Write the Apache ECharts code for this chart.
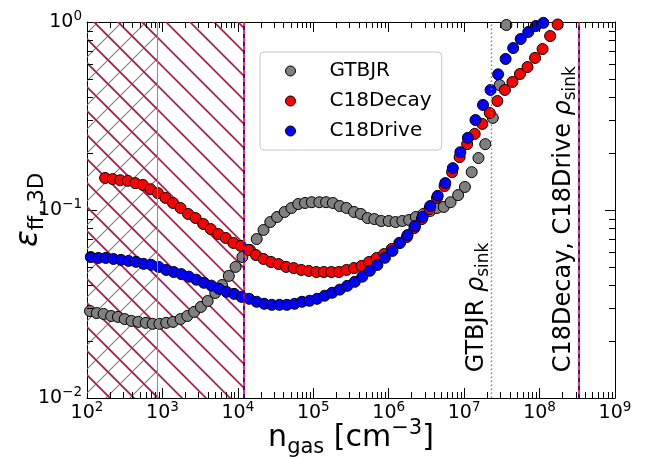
<!DOCTYPE html>
<html><head><meta charset="utf-8">
<script src="https://cdn.jsdelivr.net/npm/echarts@6.0.0/dist/echarts.min.js"></script>
<style>html,body{margin:0;padding:0;background:#fff}#c{width:646px;height:457px}</style>
</head><body><div id="c"></div>
<script>
// ---- data (log10 of n_gas, and eps_ff,3D) ----
const gtbjrLogN = [2.04,2.13,2.22,2.32,2.41,2.50,2.59,2.68,2.78,2.87,2.96,3.05,3.14,3.24,3.33,3.42,3.51,3.60,3.70,3.79,3.88,3.97,4.06,4.16,4.25,4.34,4.43,4.52,4.62,4.71,4.80,4.89,4.98,5.08,5.17,5.26,5.35,5.44,5.54,5.63,5.72,5.81,5.90,6.00,6.09,6.18,6.27,6.36,6.46,6.55,6.64,6.73,6.82,6.92,7.01,7.10,7.19,7.28,7.38,7.47,7.56];
const gtbjrEps = [0.0290,0.0283,0.0280,0.0273,0.0270,0.0263,0.0257,0.0254,0.0251,0.0248,0.0248,0.0251,0.0254,0.0263,0.0273,0.0287,0.0305,0.0328,0.0362,0.0399,0.0446,0.0498,0.0562,0.0613,0.0701,0.0783,0.0863,0.0918,0.0976,0.1025,0.1076,0.109,0.110,0.110,0.110,0.109,0.105,0.1025,0.0976,0.0953,0.0906,0.0895,0.0874,0.0874,0.0863,0.0874,0.0885,0.0918,0.0953,0.0988,0.1025,0.1038,0.110,0.120,0.1326,0.159,0.189,0.224,0.309,0.462,0.964];
const decayLogN = [2.24,2.34,2.44,2.54,2.64,2.74,2.84,2.94,3.04,3.14,3.24,3.34,3.44,3.54,3.64,3.74,3.84,3.94,4.04,4.14,4.24,4.34,4.44,4.54,4.64,4.74,4.84,4.94,5.04,5.14,5.24,5.34,5.44,5.54,5.64,5.74,5.84,5.94,6.04,6.14,6.24,6.34,6.44,6.54,6.64,6.74,6.84,6.94,7.04,7.14,7.24,7.34,7.44,7.54,7.64,7.74,7.84,7.94,8.04,8.14,8.24];
const decayEps = [0.148,0.146,0.144,0.143,0.139,0.136,0.129,0.123,0.116,0.109,0.1025,0.0953,0.0906,0.0843,0.0792,0.0745,0.0710,0.0668,0.0644,0.0613,0.0576,0.0549,0.0529,0.0516,0.0498,0.0491,0.0480,0.0474,0.0468,0.0468,0.0468,0.0468,0.0480,0.0491,0.0504,0.0529,0.0556,0.0583,0.0621,0.0668,0.0718,0.0802,0.0895,0.101,0.116,0.134,0.159,0.191,0.224,0.254,0.287,0.328,0.380,0.435,0.480,0.529,0.576,0.644,0.718,0.842,0.97];
const driveLogN = [2.05,2.15,2.25,2.35,2.45,2.55,2.65,2.75,2.85,2.95,3.05,3.15,3.25,3.35,3.45,3.55,3.65,3.75,3.85,3.95,4.05,4.15,4.25,4.35,4.45,4.55,4.65,4.75,4.85,4.95,5.05,5.15,5.25,5.35,5.45,5.55,5.65,5.75,5.85,5.95,6.05,6.15,6.25,6.35,6.45,6.55,6.65,6.75,6.85,6.95,7.05,7.15,7.25,7.35,7.45,7.55,7.65,7.75,7.85,7.95,8.05];
const driveEps = [0.0562,0.0556,0.0556,0.0549,0.0543,0.0536,0.0530,0.0517,0.0511,0.0498,0.0480,0.0468,0.0456,0.0442,0.0426,0.0410,0.0396,0.0381,0.0367,0.0358,0.0345,0.0337,0.0325,0.0317,0.0313,0.0313,0.0313,0.0317,0.0325,0.0329,0.0337,0.0350,0.0363,0.0377,0.0395,0.0415,0.0442,0.0475,0.0510,0.0557,0.0606,0.0668,0.0736,0.0822,0.0920,0.105,0.119,0.139,0.167,0.203,0.242,0.301,0.362,0.435,0.527,0.636,0.727,0.812,0.885,0.952,0.99];

const seriesNames = ['GTBJR', 'C18Decay', 'C18Drive'];
const seriesColors = ['#808080', '#ff0000', '#0000ff'];
const xRange = [1e2, 1e9];
const yRange = [1e-2, 1];
const minorMultipliers = [2, 3, 4, 5, 6, 7, 8, 9];
const xMinorDecades = [2, 3, 4, 5, 6, 7, 8];
const yMinorDecades = [-2, -1];
const gtbjrResolved = 850;      // gray hatch limit
const c18Resolved = 1.18e4;     // red/blue hatch limit
const gtbjrSink = 2.3e7;
const c18Sink = 3.3e8;
const sinkLabelEps = 0.0137;
const sinkLabels = ['GTBJR', 'C18Decay, C18Drive'];

const F = 'DejaVu Sans';
const pairs = (ln, ep) => ln.map((l, i) => [Math.pow(10, l), ep[i]]);
const xMinor = [], yMinor = [];
xMinorDecades.forEach(d => minorMultipliers.forEach(m => xMinor.push(m * Math.pow(10, d))));
yMinorDecades.forEach(d => minorMultipliers.forEach(m => yMinor.push(m * Math.pow(10, d))));

function makeHatch(kind) {
  const T = 24, c = document.createElement('canvas');
  c.width = T; c.height = T;
  const g = c.getContext('2d');
  const back = () => { for (let k = -1; k <= 1; k++) { g.beginPath(); g.moveTo(-3, -3 + k * T); g.lineTo(T + 3, T + 3 + k * T); g.stroke(); } };
  const fwd = () => { for (let k = -1; k <= 1; k++) { g.beginPath(); g.moveTo(-3, T + 3 + k * T); g.lineTo(T + 3, -3 + k * T); g.stroke(); } };
  if (kind === 'x') { g.strokeStyle = '#7a7a7a'; g.lineWidth = 1.1; back(); fwd(); }
  else { g.strokeStyle = '#f0102a'; g.lineWidth = 1.7; back(); g.strokeStyle = 'rgba(80,0,160,0.4)'; g.lineWidth = 0.7; back(); }
  return c;
}
const grayHatch = makeHatch('x'), redHatch = makeHatch('r');

const tickRich = {
  b: { fontSize: 19, lineHeight: 22, fontFamily: F, color: '#000' },
  s: { fontSize: 13.5, lineHeight: 14, padding: [0, 0, 12, 0], fontFamily: F, color: '#000' }
};
const expFmt = v => { const e = Math.round(Math.log10(v)); return '{b|10}{s|' + (e < 0 ? '\u2212' + (-e) : e) + '}'; };

function axisCommon(pos, showLabel) {
  return {
    type: 'log', logBase: 10, position: pos,
    axisLine: { show: true, lineStyle: { color: '#000', width: 1 } },
    axisTick: { show: true, inside: true, length: 10, lineStyle: { color: '#000', width: 1 } },
    minorTick: { show: false },
    splitLine: { show: false },
    axisLabel: showLabel ? { show: true, formatter: expFmt, rich: tickRich } : { show: false }
  };
}

function minorRender(dir) {
  return function (params, api) {
    const cs = params.coordSys, L = 6;
    const p = api.coord([api.value(0), api.value(1)]);
    const st = { stroke: '#000', lineWidth: 1 };
    if (dir === 'x') {
      const x = Math.round(p[0]) + 0.5, yb = cs.y + cs.height, yt = cs.y;
      return { type: 'group', children: [
        { type: 'line', shape: { x1: x, y1: yb, x2: x, y2: yb - L }, style: st },
        { type: 'line', shape: { x1: x, y1: yt, x2: x, y2: yt + L }, style: st }] };
    }
    const y = Math.round(p[1]) + 0.5, xl = cs.x, xr = cs.x + cs.width;
    return { type: 'group', children: [
      { type: 'line', shape: { x1: xl, y1: y, x2: xl + L, y2: y }, style: st },
      { type: 'line', shape: { x1: xr, y1: y, x2: xr - L, y2: y }, style: st }] };
  };
}

const chart = echarts.init(document.getElementById('c'), null, { renderer: 'canvas' });
const datasets = [pairs(gtbjrLogN, gtbjrEps), pairs(decayLogN, decayEps), pairs(driveLogN, driveEps)];

const xA = axisCommon('bottom', true);
Object.assign(xA, { min: xRange[0], max: xRange[1], nameLocation: 'middle', nameGap: 25, nameMoveOverlap: false,
  name: '{n|n}{sub|gas}{n| [cm}{sup|\u22123}{n|]}',
  nameTextStyle: { rich: {
    n: { fontSize: 30, lineHeight: 30, fontFamily: F, color: '#000' },
    sub: { fontSize: 21, lineHeight: 21, padding: [20, 0, 0, 0], fontFamily: F, color: '#000' },
    sup: { fontSize: 21, lineHeight: 21, padding: [0, 0, 18, 0], fontFamily: F, color: '#000' } } } });
xA.axisLabel.margin = 4;
const xTop = axisCommon('top', false); Object.assign(xTop, { min: xRange[0], max: xRange[1] });
const yA = axisCommon('left', true);
Object.assign(yA, { min: yRange[0], max: yRange[1], nameLocation: 'middle', nameGap: 43, nameRotate: 90, nameMoveOverlap: false,
  name: '{e|\u03b5}{sub|ff, 3D}',
  nameTextStyle: { rich: {
    e: { fontSize: 31, lineHeight: 30, fontFamily: F, fontStyle: 'italic', color: '#000' },
    sub: { fontSize: 21, lineHeight: 21, padding: [18, 0, 0, 0], fontFamily: F, color: '#000' } } } });
yA.axisLabel.margin = 5;
const yRight = axisCommon('right', false); Object.assign(yRight, { min: yRange[0], max: yRange[1] });

const series = seriesNames.map((nm, i) => ({
  type: 'scatter', name: nm, data: datasets[i], symbol: 'circle', symbolSize: 11, z: 2 + i * 0.01,
  itemStyle: { color: seriesColors[i], borderColor: '#000', borderWidth: 1, opacity: 1 },
  clip: true, silent: true
}));

const lineRed = { color: '#ff0000', width: 1.6, type: 'solid' };
const lineBlue = { color: '#0000ff', width: 1.6, type: [4, 4] };
series.unshift({
  type: 'scatter', name: 'regions', data: [], silent: true, z: 1,
  markArea: { silent: true, data: [
    [{ xAxis: xRange[0], itemStyle: { color: { image: grayHatch, repeat: 'repeat' }, borderWidth: 0 } }, { xAxis: gtbjrResolved }],
    [{ xAxis: xRange[0], itemStyle: { color: { image: redHatch, repeat: 'repeat' }, borderWidth: 0 } }, { xAxis: c18Resolved }]
  ] },
  markLine: { silent: true, symbol: ['none', 'none'], label: { show: false }, data: [
    { xAxis: gtbjrResolved, lineStyle: { color: '#8a8a8a', width: 1, type: 'solid' } },
    { xAxis: c18Resolved, lineStyle: lineRed },
    { xAxis: c18Resolved, lineStyle: lineBlue },
    { xAxis: gtbjrSink, lineStyle: { color: '#808080', width: 1.4, type: [1.5, 2.5] } },
    { xAxis: c18Sink, lineStyle: lineRed },
    { xAxis: c18Sink, lineStyle: lineBlue }
  ] }
});
series.push({ type: 'custom', name: 'xminor', data: xMinor.map(v => [v, 0.1]), renderItem: minorRender('x'), silent: true, clip: false, z: 6 });
series.push({ type: 'custom', name: 'yminor', data: yMinor.map(v => [1000, v]), renderItem: minorRender('y'), silent: true, clip: false, z: 6 });

chart.setOption({
  animation: false,
  backgroundColor: '#ffffff',
  grid: { left: 87, right: 31, top: 22, bottom: 59, containLabel: false, outerBoundsMode: 'none' },
  xAxis: [xA, Object.assign(xTop, { gridIndex: 0 })],
  yAxis: [yA, Object.assign(yRight, { gridIndex: 0 })],
  legend: {
    data: seriesNames.map(n => ({ name: n, icon: 'circle', itemStyle: { borderColor: '#000', borderWidth: 1 } })),
    orient: 'vertical', left: 260, top: 52,
    itemWidth: 10, itemHeight: 10, itemGap: 10,
    itemStyle: { borderColor: '#000', borderWidth: 1 },
    textStyle: { fontSize: 20, fontFamily: F, color: '#000', padding: [0, 0, 0, 29] },
    backgroundColor: 'rgba(255,255,255,0.8)', borderColor: '#c8c8c8', borderWidth: 1, borderRadius: 4,
    padding: [9, 10, 9, 25]
  },
  series: series
});

const sinkRich = {
  b: { fontSize: 24, lineHeight: 24, fontFamily: F, color: '#000' },
  r: { fontSize: 24, lineHeight: 24, fontFamily: F, fontStyle: 'italic', color: '#000' },
  s: { fontSize: 17, lineHeight: 17, padding: [14, 0, 0, 0], fontFamily: F, color: '#000' }
};
const p1 = chart.convertToPixel({ gridIndex: 0 }, [gtbjrSink, sinkLabelEps]);
const p2 = chart.convertToPixel({ gridIndex: 0 }, [c18Sink, sinkLabelEps]);
chart.setOption({ graphic: [p1, p2].map((p, i) => ({
  type: 'text', x: p[0] - 3, y: p[1], rotation: Math.PI / 2, silent: true, z: 10,
  style: { text: '{b|' + sinkLabels[i] + ' }{r|\u03c1}{s|sink}', rich: sinkRich, align: 'left', verticalAlign: 'bottom' }
})) });
</script></body></html>
